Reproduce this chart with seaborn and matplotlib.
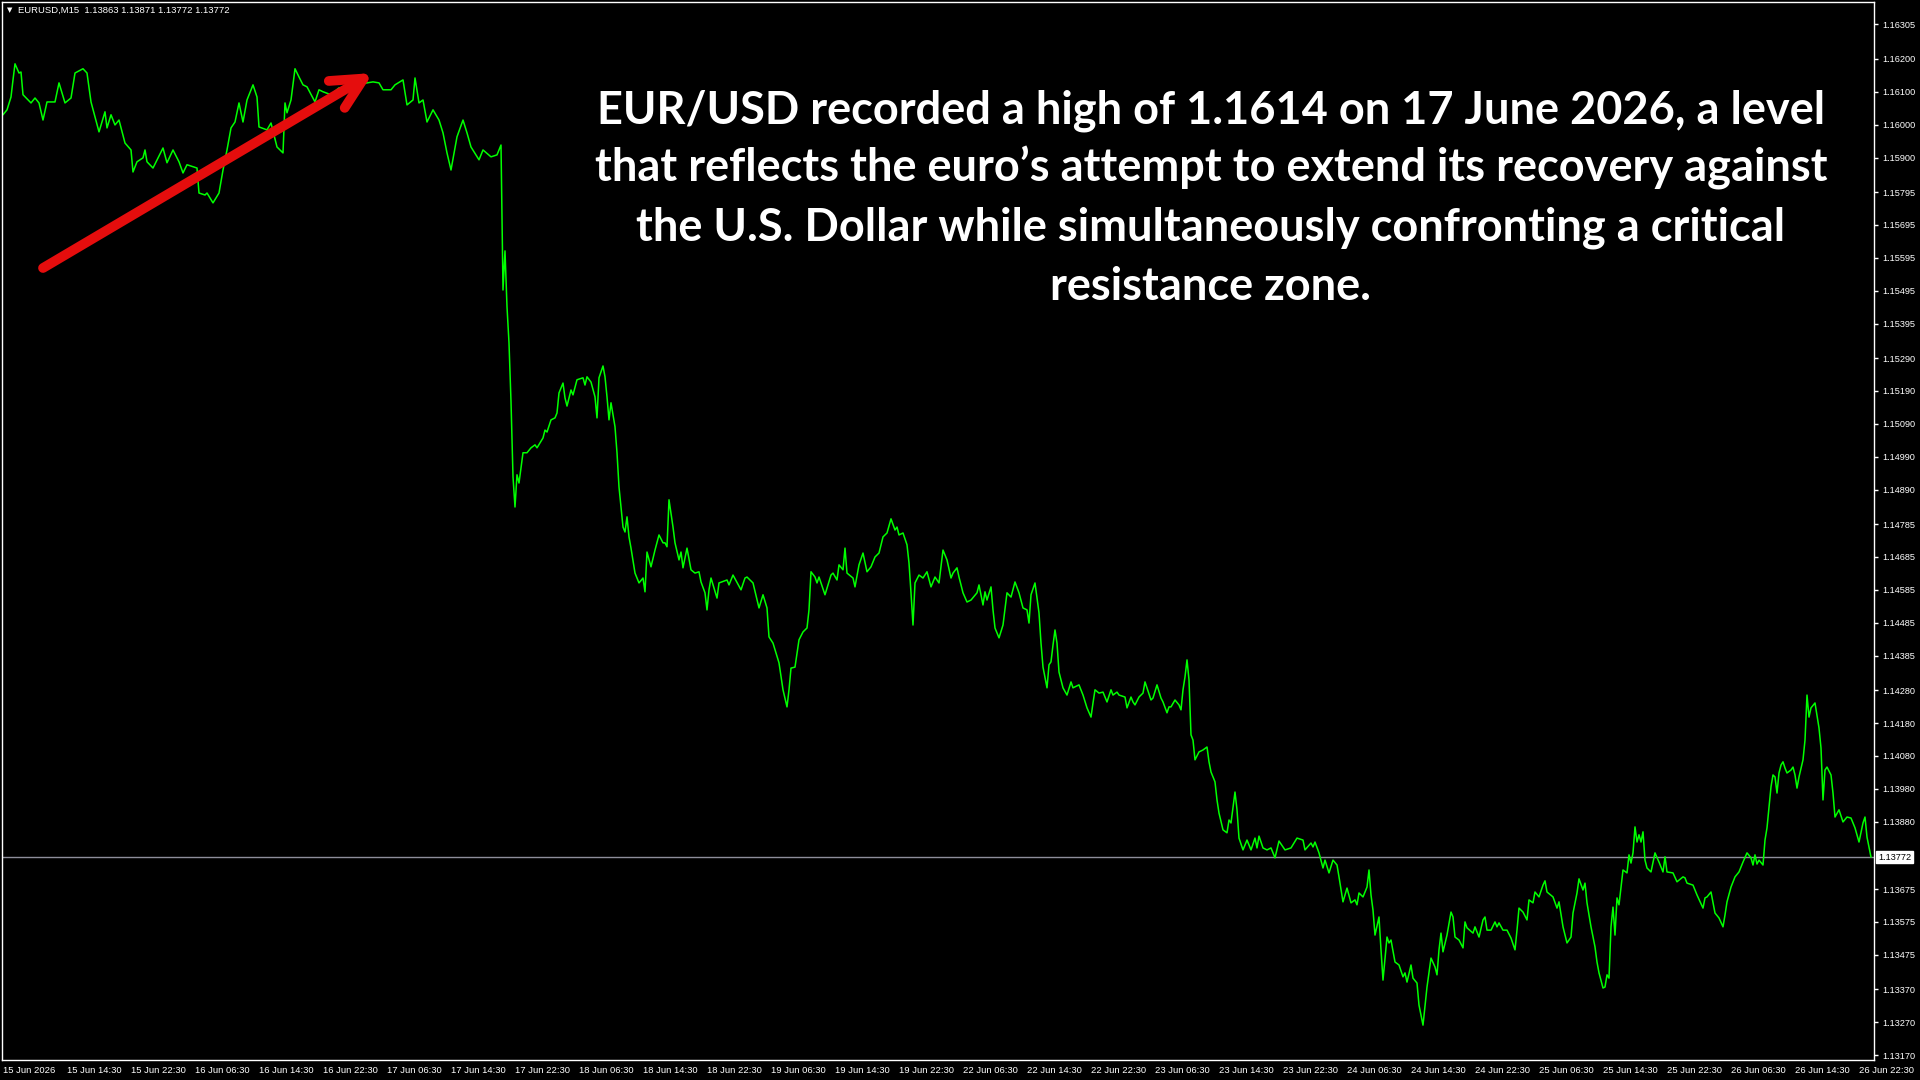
import matplotlib
matplotlib.use("Agg")
import matplotlib.pyplot as plt
import matplotlib.transforms as mtransforms
import pandas as pd
import seaborn as sns

# ---- data (EURUSD, M15 line chart) ----
symbol_caption = "EURUSD,M15  1.13863 1.13871 1.13772 1.13772"
last_price = 1.13772

headline_lines = [
    "EUR/USD recorded a high of 1.1614 on 17 June 2026, a level",
    "that reflects the euro\u2019s attempt to extend its recovery against",
    "the U.S. Dollar while simultaneously confronting a critical",
    "resistance zone.",
]

# bar number (M15 bars from the left edge) and close price
bars_a = [0, 2, 4, 5, 6, 8, 9, 10, 14, 16, 18, 20, 22, 26, 28, 31, 34, 36, 40, 42, 44, 48, 51, 52, 54, 56, 58,
          61, 64, 65, 67, 70, 71, 72, 75, 80, 82, 85, 88, 90, 92, 97, 98, 101, 102, 105, 108, 110, 112, 114,
          116, 118, 120, 122, 125, 127, 128, 132, 134, 137, 140, 141, 142, 144, 146, 148, 150, 152, 156, 158,
          160, 164, 168, 174, 178, 182, 185, 188, 190, 194, 196, 200, 202, 205, 206, 208, 210, 212, 215, 218,
          220, 222, 224, 227, 230, 232, 234, 238, 240, 244, 247, 249]
close_a = [1.16030, 1.16045, 1.16084, 1.16136, 1.16185, 1.16157, 1.16160, 1.16091, 1.16066, 1.16081, 1.16066,
           1.16014, 1.16069, 1.16069, 1.16127, 1.16066, 1.16081, 1.16157, 1.16170, 1.16157, 1.16069, 1.15978,
           1.16039, 1.15990, 1.16030, 1.15999, 1.16014, 1.15944, 1.15923, 1.15856, 1.15887, 1.15899, 1.15923,
           1.15887, 1.15868, 1.15929, 1.15884, 1.15923, 1.15887, 1.15853, 1.15878, 1.15868, 1.15792, 1.15786,
           1.15792, 1.15762, 1.15792, 1.15862, 1.15923, 1.15990, 1.16008, 1.16066, 1.16008, 1.16075, 1.16121,
           1.16084, 1.15993, 1.15984, 1.16005, 1.15932, 1.15914, 1.16066, 1.16036, 1.16075, 1.16170, 1.16145,
           1.16121, 1.16115, 1.16069, 1.16106, 1.16100, 1.16091, 1.16112, 1.16100, 1.16121, 1.16127, 1.16130,
           1.16127, 1.16106, 1.16106, 1.16121, 1.16136, 1.16060, 1.16075, 1.16142, 1.16066, 1.16075, 1.16008,
           1.16045, 1.16014, 1.15975, 1.15914, 1.15862, 1.15963, 1.16014, 1.15975, 1.15932, 1.15893, 1.15923,
           1.15902, 1.15908, 1.15938]

bars_b = [250, 251, 252, 253, 254, 255, 256, 257, 258, 260, 262, 264, 266, 267, 270, 271, 272, 274, 276, 277,
          278, 280, 281, 282, 284, 285, 287, 290, 291, 292, 294, 296, 297, 298, 300, 301, 302, 303, 304, 306,
          307, 308, 310, 311, 312, 313, 314, 316, 318, 320, 321, 322, 324, 326, 328, 330, 331, 332, 333, 335,
          336, 338, 339, 340, 342, 344, 346, 348, 349, 351, 352, 353, 354, 357, 358, 362, 363, 365, 369, 371,
          372, 375, 378, 380, 382, 383, 385, 388, 390, 392, 393, 394, 396, 398, 400, 402, 403, 404, 406, 407,
          408, 411, 414, 415, 417, 418, 420, 421, 422, 425, 426, 428, 430, 432, 434, 436, 438, 440, 442, 444,
          446, 447, 448, 450, 452, 453, 454, 455, 456, 458, 460, 462, 464, 466, 468, 469, 470, 472, 474, 475,
          477, 478, 480, 482, 484, 487, 488, 490, 491, 492, 494, 495, 496, 498]
close_b = [1.15497, 1.15616, 1.15446, 1.15336, 1.15158, 1.14929, 1.14837, 1.14935, 1.14910, 1.15002, 1.15002,
           1.15017, 1.15026, 1.15017, 1.15047, 1.15071, 1.15065, 1.15102, 1.15108, 1.15123, 1.15184, 1.15214,
           1.15169, 1.15144, 1.15193, 1.15178, 1.15224, 1.15230, 1.15208, 1.15233, 1.15217, 1.15172, 1.15108,
           1.15230, 1.15266, 1.15233, 1.15172, 1.15102, 1.15154, 1.15081, 1.15002, 1.14898, 1.14776, 1.14761,
           1.14807, 1.14746, 1.14712, 1.14636, 1.14606, 1.14621, 1.14579, 1.14700, 1.14655, 1.14706, 1.14752,
           1.14728, 1.14728, 1.14716, 1.14859, 1.14776, 1.14728, 1.14676, 1.14700, 1.14652, 1.14712, 1.14646,
           1.14636, 1.14640, 1.14609, 1.14576, 1.14524, 1.14585, 1.14621, 1.14560, 1.14606, 1.14615, 1.14600,
           1.14630, 1.14585, 1.14621, 1.14624, 1.14606, 1.14530, 1.14570, 1.14530, 1.14442, 1.14423, 1.14363,
           1.14281, 1.14229, 1.14281, 1.14347, 1.14350, 1.14433, 1.14457, 1.14469, 1.14524, 1.14640, 1.14624,
           1.14606, 1.14624, 1.14570, 1.14630, 1.14636, 1.14615, 1.14661, 1.14646, 1.14712, 1.14636, 1.14621,
           1.14594, 1.14661, 1.14697, 1.14640, 1.14655, 1.14685, 1.14697, 1.14746, 1.14758, 1.14801, 1.14767,
           1.14776, 1.14752, 1.14758, 1.14722, 1.14667, 1.14576, 1.14478, 1.14606, 1.14630, 1.14621, 1.14640,
           1.14594, 1.14624, 1.14606, 1.14655, 1.14706, 1.14676, 1.14621, 1.14636, 1.14652, 1.14624, 1.14576,
           1.14548, 1.14554, 1.14576, 1.14600, 1.14539, 1.14579, 1.14554, 1.14594, 1.14524, 1.14469, 1.14439]

bars_c = [500, 502, 504, 506, 508, 510, 512, 513, 514, 516, 518, 519, 520, 522, 523, 524, 525, 526, 527, 528,
          530, 532, 534, 535, 538, 540, 542, 544, 545, 546, 548, 550, 552, 554, 555, 557, 558, 561, 562, 564,
          565, 566, 568, 570, 571, 572, 574, 575, 577, 579, 580, 582, 583, 584, 586, 588, 589, 590, 591, 592,
          593, 594, 595, 596, 598, 600, 602, 603, 604, 606, 607, 608, 610, 612, 613, 614, 616, 617, 618, 620,
          622, 624, 626, 627, 628, 630, 632, 634, 636, 638, 641, 644, 647, 650, 651, 654, 655, 656, 658, 660,
          661, 663, 665, 667, 668, 670, 672, 674, 676, 677, 678, 680, 682, 683, 684, 685, 686, 688, 689, 690,
          692, 693, 694, 696, 698, 700]
close_c = [1.14478, 1.14576, 1.14563, 1.14609, 1.14576, 1.14530, 1.14524, 1.14484, 1.14570, 1.14606, 1.14515,
           1.14423, 1.14350, 1.14287, 1.14357, 1.14366, 1.14417, 1.14463, 1.14423, 1.14335, 1.14287, 1.14265,
           1.14305, 1.14287, 1.14296, 1.14265, 1.14226, 1.14198, 1.14241, 1.14281, 1.14271, 1.14274, 1.14244,
           1.14281, 1.14265, 1.14274, 1.14265, 1.14259, 1.14226, 1.14259, 1.14244, 1.14235, 1.14259, 1.14271,
           1.14305, 1.14287, 1.14250, 1.14256, 1.14296, 1.14256, 1.14244, 1.14211, 1.14229, 1.14229, 1.14250,
           1.14235, 1.14220, 1.14281, 1.14320, 1.14372, 1.14311, 1.14144, 1.14128, 1.14068, 1.14092, 1.14098,
           1.14107, 1.14062, 1.14031, 1.14001, 1.13946, 1.13906, 1.13855, 1.13846, 1.13885, 1.13876, 1.13970,
           1.13916, 1.13830, 1.13794, 1.13824, 1.13794, 1.13830, 1.13800, 1.13836, 1.13800, 1.13794, 1.13800,
           1.13770, 1.13821, 1.13794, 1.13800, 1.13830, 1.13824, 1.13794, 1.13815, 1.13803, 1.13818, 1.13785,
           1.13739, 1.13763, 1.13724, 1.13763, 1.13748, 1.13712, 1.13636, 1.13678, 1.13633, 1.13642, 1.13627,
           1.13663, 1.13651, 1.13681, 1.13733, 1.13657, 1.13611, 1.13535, 1.13590, 1.13490, 1.13398, 1.13529,
           1.13511, 1.13520, 1.13453, 1.13444, 1.13408]

bars_d = [701, 702, 704, 705, 707, 708, 709, 710, 712, 713, 714, 716, 717, 718, 719, 720, 722, 724, 725, 726,
          728, 730, 731, 732, 735, 736, 738, 740, 741, 742, 744, 746, 747, 748, 750, 752, 754, 756, 757, 758,
          760, 762, 763, 765, 766, 768, 770, 771, 772, 775, 777, 778, 780, 782, 784, 785, 787, 788, 790, 791,
          792, 794, 796, 797, 798, 800, 801, 802, 803, 804, 805, 806, 807, 808, 810, 812, 813, 814, 815, 816,
          817, 818, 819, 820, 821, 822, 824, 826, 828, 830, 831, 832, 835, 837, 840, 841, 842, 845, 847, 850,
          851, 852, 854, 856, 858, 860, 861, 862, 864, 866, 868, 870, 872, 874, 875, 876, 877, 878, 880, 881,
          882, 883, 884, 885, 886, 887, 888, 889, 890, 891, 892, 894, 895, 896, 897, 898, 900, 901, 902, 903,
          904, 906, 907, 908, 909, 910, 911, 912, 914, 915, 916, 918, 920, 922, 924, 926, 928, 930, 931, 932,
          934]
close_d = [1.13420, 1.13392, 1.13444, 1.13404, 1.13389, 1.13322, 1.13292, 1.13261, 1.13377, 1.13420, 1.13465,
           1.13438, 1.13414, 1.13490, 1.13541, 1.13484, 1.13535, 1.13605, 1.13590, 1.13529, 1.13520, 1.13496,
           1.13575, 1.13557, 1.13541, 1.13560, 1.13529, 1.13581, 1.13590, 1.13550, 1.13550, 1.13575, 1.13560,
           1.13572, 1.13550, 1.13550, 1.13526, 1.13490, 1.13550, 1.13617, 1.13605, 1.13581, 1.13642, 1.13633,
           1.13666, 1.13651, 1.13687, 1.13700, 1.13666, 1.13651, 1.13617, 1.13636, 1.13560, 1.13511, 1.13529,
           1.13602, 1.13663, 1.13706, 1.13672, 1.13693, 1.13633, 1.13560, 1.13499, 1.13453, 1.13420, 1.13374,
           1.13377, 1.13414, 1.13404, 1.13560, 1.13620, 1.13535, 1.13648, 1.13627, 1.13733, 1.13724, 1.13779,
           1.13754, 1.13785, 1.13864, 1.13818, 1.13840, 1.13818, 1.13849, 1.13763, 1.13739, 1.13727, 1.13785,
           1.13757, 1.13727, 1.13773, 1.13727, 1.13724, 1.13697, 1.13712, 1.13709, 1.13693, 1.13687, 1.13657,
           1.13617, 1.13648, 1.13651, 1.13666, 1.13602, 1.13587, 1.13560, 1.13596, 1.13636, 1.13681, 1.13712,
           1.13727, 1.13757, 1.13785, 1.13770, 1.13748, 1.13779, 1.13751, 1.13763, 1.13748, 1.13824, 1.13861,
           1.13925, 1.13986, 1.14022, 1.14016, 1.13967, 1.14028, 1.14052, 1.14062, 1.14043, 1.14028, 1.14037,
           1.14046, 1.14022, 1.13982, 1.14016, 1.14068, 1.14128, 1.14265, 1.14198, 1.14226, 1.14241, 1.14204,
           1.14165, 1.14104, 1.13946, 1.14037, 1.14046, 1.14022, 1.13967, 1.13894, 1.13916, 1.13879, 1.13894,
           1.13891, 1.13861, 1.13818, 1.13876, 1.13894, 1.13833, 1.13772]

time_labels = ["15 Jun 2026", "15 Jun 14:30", "15 Jun 22:30", "16 Jun 06:30", "16 Jun 14:30", "16 Jun 22:30",
               "17 Jun 06:30", "17 Jun 14:30", "17 Jun 22:30", "18 Jun 06:30", "18 Jun 14:30", "18 Jun 22:30",
               "19 Jun 06:30", "19 Jun 14:30", "19 Jun 22:30", "22 Jun 06:30", "22 Jun 14:30", "22 Jun 22:30",
               "23 Jun 06:30", "23 Jun 14:30", "23 Jun 22:30", "24 Jun 06:30", "24 Jun 14:30", "24 Jun 22:30",
               "25 Jun 06:30", "25 Jun 14:30", "25 Jun 22:30", "26 Jun 06:30", "26 Jun 14:30", "26 Jun 22:30"]
bars_per_label = 32

price_ticks = [1.16305, 1.16200, 1.16100, 1.16000, 1.15900, 1.15795, 1.15695, 1.15595, 1.15495, 1.15395,
               1.15290, 1.15190, 1.15090, 1.14990, 1.14890, 1.14785, 1.14685, 1.14585, 1.14485, 1.14385,
               1.14280, 1.14180, 1.14080, 1.13980, 1.13880, 1.13675, 1.13575, 1.13475, 1.13370, 1.13270,
               1.13170]

df = pd.DataFrame({
    "bar": bars_a + bars_b + bars_c + bars_d,
    "close": close_a + close_b + close_c + close_d,
})

sns.set_style("dark", rc={"axes.facecolor": "black", "figure.facecolor": "black",
                          "axes.edgecolor": "white", "axes.grid": False})
plt.rcParams["font.family"] = ["Liberation Sans", "DejaVu Sans"]

fig = plt.figure(figsize=(19.2, 10.8), dpi=100, facecolor="black")
ax = fig.add_axes([2 / 1920, 20 / 1080, 1872 / 1920, 1058 / 1080])

sns.lineplot(data=df, x="bar", y="close", color="#00ff00", linewidth=1.1,
             estimator=None, sort=False, ax=ax)
ax.axhline(last_price, color="#8e8e9a", linewidth=1.0, zorder=1)

ax.set_xlim(-0.5, 935.5)
ax.set_ylim(1.13155, 1.16373)
ax.set_xlabel("")
ax.set_ylabel("")

for side in ["left", "right", "top", "bottom"]:
    ax.spines[side].set_color("white")
    ax.spines[side].set_linewidth(1.0)

# price scale on the right like MT4
ax.yaxis.tick_right()
ax.set_yticks(price_ticks)
ax.set_yticklabels([f"{p:.5f}" for p in price_ticks])
ax.tick_params(axis="y", direction="out", length=3, width=1, colors="white",
               labelsize=6.6, pad=3)

ax.set_xticks([i * bars_per_label for i in range(len(time_labels))])
ax.set_xticklabels(time_labels)
ax.tick_params(axis="x", direction="out", length=3, width=1, colors="white",
               labelsize=6.8, pad=1)
for lab in ax.get_xticklabels():
    lab.set_horizontalalignment("left")

# current price tag
tag_tr = mtransforms.blended_transform_factory(ax.transAxes, ax.transData)
ax.text(1.0 + 4 / 1872, last_price, f"{last_price:.5f}", transform=tag_tr, ha="left", va="center",
        fontsize=6.6, color="black", clip_on=False,
        bbox=dict(boxstyle="square,pad=0.18", fc="white", ec="white"))

# chart caption top-left
fig.text(7 / 1920, 1 - 10 / 1080, "\u25bc", fontsize=5, color="white", va="center",
         family=["DejaVu Sans"])
fig.text(18 / 1920, 1 - 10 / 1080, symbol_caption, fontsize=6.8, color="white", va="center")

# headline
line_y = [111, 168, 228, 287]
for txt, yy in zip(headline_lines, line_y):
    fig.text(1211 / 1920, 1 - yy / 1080, txt, ha="center", va="center", fontsize=32.5,
             fontweight="bold", color="white", family=["Lato", "DejaVu Sans"])

# red arrow toward the high
ax.annotate("", xy=(373, 1007), xycoords="figure pixels", xytext=(43, 812), textcoords="figure pixels",
            arrowprops=dict(arrowstyle="->, head_length=0.9, head_width=0.45", color="#e50d0d", lw=7,
                            capstyle="round", joinstyle="round", mutation_scale=25,
                            shrinkA=0, shrinkB=0))

fig.savefig("out.png", dpi=100, facecolor="black")
plt.close(fig)
